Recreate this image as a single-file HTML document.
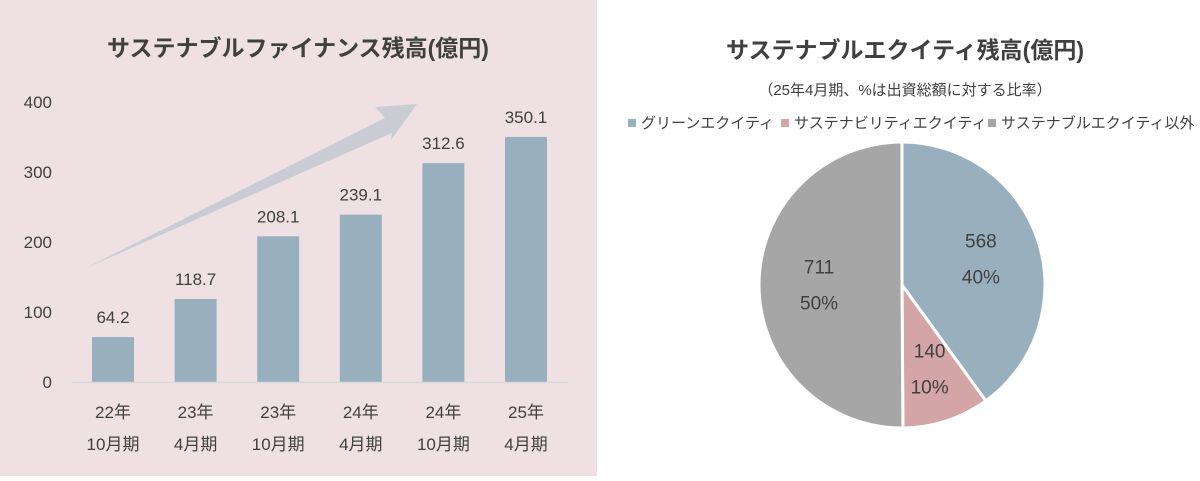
<!DOCTYPE html>
<html><head><meta charset="utf-8"><style>
body{margin:0;width:1200px;height:476px;background:#fff;overflow:hidden;font-family:"Liberation Sans","Noto Sans CJK JP",sans-serif;}
svg text{font-family:"Liberation Sans","Noto Sans CJK JP",sans-serif;}
</style></head><body>
<svg width="1200" height="476" xmlns="http://www.w3.org/2000/svg" id="root">
<rect x="0" y="0" width="597" height="476" fill="#efe1e3"/>
<text x="298" y="56" text-anchor="middle" font-size="23" font-weight="bold" fill="#404040">サステナブルファイナンス残高(億円)</text>
<polygon points="86,268 385,118 375,107 417,104 391,140 392,133" fill="#c9cdd3"/>
<g id="bars"></g>
<text x="905" y="58" text-anchor="middle" font-size="23" font-weight="bold" fill="#404040">サステナブルエクイティ残高(億円)</text>
<text x="905" y="95" text-anchor="middle" font-size="15" fill="#404040">（25年4月期、%は出資総額に対する比率）</text>
<g font-size="15" fill="#404040">
<rect x="628" y="119" width="8" height="8" fill="#98b0be"/>
<text x="641" y="128">グリーンエクイティ</text>
<rect x="781" y="119" width="8" height="8" fill="#d4a5a6"/>
<text x="794" y="128">サステナビリティエクイティ</text>
<rect x="988" y="119" width="8" height="8" fill="#a6a6a6"/>
<text x="1001" y="128">サステナブルエクイティ以外</text>
</g>
<g id="pie"></g>
</svg>
<script>
const categoriesTop = ["22年","23年","23年","24年","24年","25年"];
const categoriesBottom = ["10月期","4月期","10月期","4月期","10月期","4月期"];
const values = [64.2,118.7,208.1,239.1,312.6,350.1];
const yTicks = [0,100,200,300,400];
const pieLabels = ["グリーンエクイティ","サステナビリティエクイティ","サステナブルエクイティ以外"];
const pieValues = [568,140,711];
const pieColors = ["#98b0be","#d4a5a6","#a6a6a6"];

const NS="http://www.w3.org/2000/svg";
function mk(tag,attrs,parent){const e=document.createElementNS(NS,tag);for(const k in attrs)e.setAttribute(k,attrs[k]);parent.appendChild(e);return e;}
const y=v=>382-v*0.7;
const xc=i=>113+i*82.6;
const bars=document.getElementById('bars');
yTicks.forEach(t=>{
  const tx=mk('text',{x:52,y:y(t)+6,'text-anchor':'end','font-size':17,fill:'#404040'},bars);
  
  
  tx.textContent=t;
});
values.forEach((v,i)=>{
  const r=mk('rect',{x:xc(i)-21,y:y(v),width:42,height:y(0)-y(v),fill:'#98b0be'},bars);
  
  
  const l=mk('text',{x:xc(i),y:y(v)-14,'text-anchor':'middle','font-size':17,fill:'#404040'},bars);
  
  
  l.textContent=v.toFixed(1);
  const c1=mk('text',{x:xc(i),y:418,'text-anchor':'middle','font-size':17,fill:'#404040'},bars);
  
  
  c1.textContent=categoriesTop[i];
  const c2=mk('text',{x:xc(i),y:450,'text-anchor':'middle','font-size':17,fill:'#404040'},bars);
  
  
  c2.textContent=categoriesBottom[i];
});
const ax=mk('line',{x1:72,y1:382.5,x2:568,y2:382.5,stroke:'#d9d9d9','stroke-width':1.5},bars);



const pie=document.getElementById('pie');
const cx=902,cy=285,R=143;
const total=pieValues.reduce((a,b)=>a+b,0);
let a0=0;
pieValues.forEach((v,i)=>{
  const frac=v/total;const a1=a0+frac*2*Math.PI;
  const p=(a)=>[cx+R*Math.sin(a),cy-R*Math.cos(a)];
  const [x0,y0]=p(a0),[x1,y1]=p(a1);
  const d=`M${cx},${cy}L${x0},${y0}A${R},${R} 0 ${frac>0.5?1:0} 1 ${x1},${y1}Z`;
  const s=mk('path',{d:d,fill:pieColors[i],stroke:'#fff','stroke-width':3,'stroke-linejoin':'round'},pie);
  
  
  const am=(a0+a1)/2;const rr=i==1?R*0.62:R*0.58;
  const lx=cx+rr*Math.sin(am),ly=cy-rr*Math.cos(am);
  const t1=mk('text',{x:lx,y:ly-12,'text-anchor':'middle','font-size':19,fill:'#404040'},pie);
  
  
  t1.textContent=v;
  const t2=mk('text',{x:lx,y:ly+24,'text-anchor':'middle','font-size':19,fill:'#404040'},pie);
  
  
  t2.textContent=Math.round(frac*100)+'%';
  a0=a1;
});
</script>
</body></html>
